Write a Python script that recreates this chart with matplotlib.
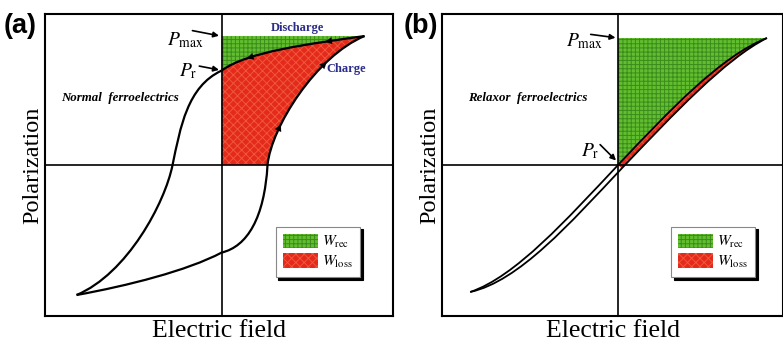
import matplotlib
matplotlib.use('Agg')
import matplotlib.pyplot as plt
from matplotlib.path import Path
from matplotlib.patches import PathPatch, Patch
from matplotlib.bezier import BezierSegment
import numpy as np

plt.rcParams['font.family'] = 'Liberation Serif'
plt.rcParams['mathtext.fontset'] = 'stix'
plt.rcParams['hatch.linewidth'] = 0.7

GREEN = '#62bd2f'
GREEN_HATCH = '#3b8c1c'
RED = '#e42a1a'
RED_HATCH = '#f0563c'
NAVY = '#2c2c8a'

# (a) normal ferroelectric loop, cubic bezier control points (E, P)
a_tip = (0.834, 0.854)
a_pr = (0.0, 0.625)
a_bottom = (-0.846, -0.861)
a_discharge = [a_tip, (0.50, 0.80), (0.15, 0.75), a_pr]
a_upper = [a_pr, (-0.20, 0.52), (-0.24, 0.25), (-0.286, 0.0),
           (-0.33, -0.25), (-0.55, -0.72), a_bottom]
a_lower = [a_bottom, (-0.55, -0.80), (-0.20, -0.70), (0.0, -0.58),
           (0.15, -0.54), (0.25, -0.35), (0.268, 0.0),
           (0.29, 0.25), (0.55, 0.72), a_tip]
# arrow positions (bezier parameter) on discharge and charge branches
a_discharge_t = [0.2, 0.72]
a_charge_t = [0.27, 0.7]

# (b) relaxor ferroelectric loop
b_tip = (0.871, 0.841)
b_bottom = (-0.865, -0.841)
b_discharge = [b_tip, (0.60, 0.72), (0.30, 0.36), (0.0, 0.0),
               (-0.30, -0.36), (-0.60, -0.74), b_bottom]
b_charge = [b_bottom, (-0.58, -0.77), (-0.28, -0.385), (0.022, -0.022),
            (0.325, 0.338), (0.625, 0.70), b_tip]

legend_labels = [r'$W_{\mathrm{rec}}$', r'$W_{\mathrm{loss}}$']


def curve(points):
    codes = [Path.MOVETO] + [Path.CURVE4] * (len(points) - 1)
    return Path(points, codes)


def region(pieces):
    verts, codes = [], []
    for piece in pieces:
        verts.append(piece[0])
        codes.append(Path.LINETO if codes else Path.MOVETO)
        verts += list(piece[1:])
        codes += [Path.CURVE4] * (len(piece) - 1)
    verts.append(verts[0])
    codes.append(Path.CLOSEPOLY)
    return Path(verts, codes)


def fill(ax, path, face, hatch, hatch_color):
    ax.add_patch(PathPatch(path, facecolor=face, edgecolor=hatch_color,
                           hatch=hatch, linewidth=0, zorder=1))


def arrow_on(ax, ctrl, t):
    seg = BezierSegment(np.array(ctrl))
    tail = seg.point_at_t(t - 0.03)
    head = seg.point_at_t(t + 0.03)
    ax.annotate('', xy=head, xytext=tail,
                arrowprops=dict(arrowstyle='-|>', color='k', lw=0.1,
                                mutation_scale=12, shrinkA=0, shrinkB=0),
                zorder=5)


def setup(ax, xlim):
    ax.set_xlim(*xlim)
    ax.set_ylim(-1, 1)
    ax.set_xticks([])
    ax.set_yticks([])
    for s in ax.spines.values():
        s.set_linewidth(1.5)
    ax.axhline(0, color='k', lw=1.2, zorder=3)
    ax.axvline(0, color='k', lw=1.2, zorder=3)
    ax.set_xlabel('Electric field', fontsize=18.5, labelpad=3)
    ax.set_ylabel('Polarization', fontsize=17.5, labelpad=1)


def legend(ax, anchor):
    handles = [Patch(facecolor=GREEN, edgecolor=GREEN_HATCH, hatch='++++', linewidth=0),
               Patch(facecolor=RED, edgecolor=RED_HATCH, hatch='xxxx', linewidth=0)]
    leg = ax.legend(handles, legend_labels, loc='lower right', bbox_to_anchor=anchor,
                    borderaxespad=0, fancybox=False, shadow={'color': 'k', 'alpha': 1},
                    fontsize=11, handlelength=2.3, handleheight=1.1,
                    labelspacing=0.2, borderpad=0.45, handletextpad=0.3,
                    framealpha=1)
    leg.get_frame().set_edgecolor('#888888')
    leg.get_frame().set_linewidth(0.8)
    leg.set_zorder(6)


def label_arrow(ax, text, tail, head, xy, fs=14):
    ax.text(*xy, text, fontsize=fs, ha='right', va='center')
    ax.annotate('', xy=head, xytext=tail,
                arrowprops=dict(arrowstyle='-|>', color='k', lw=1.2,
                                mutation_scale=8, shrinkA=0, shrinkB=0))


fig = plt.figure(figsize=(7.83, 3.45), dpi=100)
ax_a = fig.add_axes([45 / 783, 29 / 345, 348 / 783, 302 / 345])
ax_b = fig.add_axes([442 / 783, 29 / 345, 341 / 783, 302 / 345])

# ---- panel (a)
setup(ax_a, (-1.03, 1.0))
fill(ax_a, region([[(0, a_tip[1])], a_discharge]), GREEN, '++++', GREEN_HATCH)
fill(ax_a, region([[(0, 0)], a_discharge[::-1], a_lower[-4:][::-1]]), RED, 'xxxx', RED_HATCH)
for pts in (a_discharge, a_upper, a_lower):
    ax_a.add_patch(PathPatch(curve(pts), fill=False, edgecolor='k', lw=1.6, zorder=4))
for t in a_discharge_t:
    arrow_on(ax_a, a_discharge, t)
for t in a_charge_t:
    arrow_on(ax_a, a_lower[-4:], t)
legend(ax_a, (0.905, 0.13))
label_arrow(ax_a, r'$P_{\mathrm{max}}$', (-0.17, 0.89), (-0.015, 0.856), (-0.1, 0.83))
label_arrow(ax_a, r'$P_{\mathrm{r}}$', (-0.13, 0.655), (-0.015, 0.63), (-0.14, 0.62))
ax_a.text(0.44, 0.905, 'Discharge', color=NAVY, fontsize=9, fontweight='bold',
          ha='center', va='center')
ax_a.text(0.61, 0.636, 'Charge', color=NAVY, fontsize=9, fontweight='bold',
          ha='left', va='center')
ax_a.text(-0.59, 0.444, 'Normal  ferroelectrics', fontsize=9.3, fontweight='bold',
          style='italic', ha='center', va='center')

# ---- panel (b)
setup(ax_b, (-1.03, 0.965))
fill(ax_b, region([[(0, b_tip[1])], b_discharge[:4]]), GREEN, '++++', GREEN_HATCH)
fill(ax_b, region([b_discharge[:4][::-1], b_charge[-4:][::-1]]), RED, 'xxxx', RED_HATCH)
for pts in (b_discharge, b_charge):
    ax_b.add_patch(PathPatch(curve(pts), fill=False, edgecolor='k', lw=1.3, zorder=4))
legend(ax_b, (0.918, 0.13))
label_arrow(ax_b, r'$P_{\mathrm{max}}$', (-0.16, 0.865), (-0.015, 0.843), (-0.09, 0.82))
label_arrow(ax_b, r'$P_{\mathrm{r}}$', (-0.105, 0.135), (-0.012, 0.03), (-0.11, 0.09))
ax_b.text(-0.53, 0.444, 'Relaxor  ferroelectrics', fontsize=9.3, fontweight='bold',
          style='italic', ha='center', va='center')

fig.text(4 / 783, 1 - 26 / 345, '(a)', family='Liberation Sans', fontweight='bold',
         fontsize=19.5, ha='left', va='center')
fig.text(404 / 783, 1 - 26 / 345, '(b)', family='Liberation Sans', fontweight='bold',
         fontsize=19.5, ha='left', va='center')

fig.savefig('out.png', dpi=100)
